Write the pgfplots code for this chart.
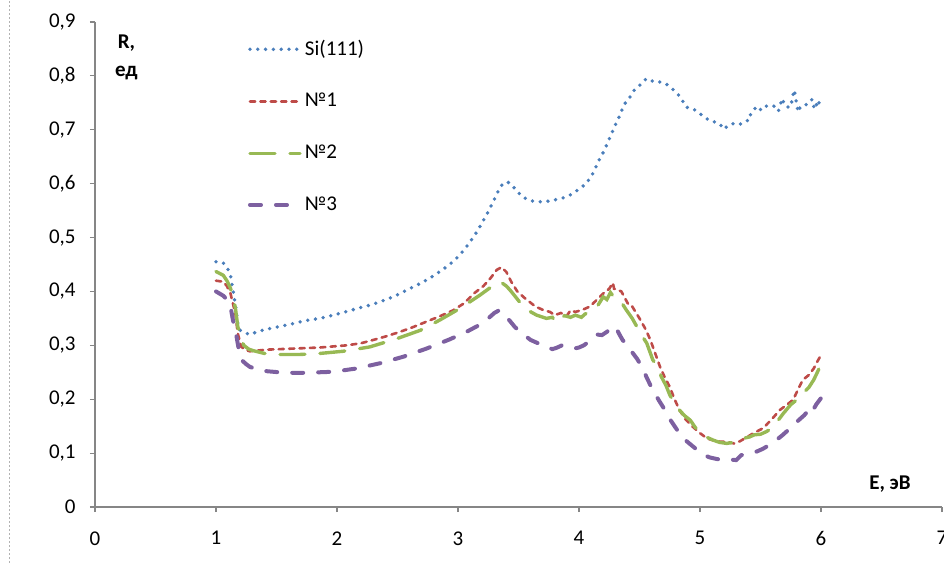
\documentclass[border=0pt]{standalone}
\usepackage{pgfplots}
\pgfplotsset{compat=1.18}
\usepackage{fontspec}
\setmainfont{Carlito}
\definecolor{cSi}{HTML}{4A7EBB}
\definecolor{cA}{HTML}{BE4B48}
\definecolor{cB}{HTML}{98B954}
\definecolor{cC}{HTML}{7D60A0}
\definecolor{axgray}{HTML}{868686}
\begin{document}
\fontsize{10.5}{12}\selectfont
\begin{tikzpicture}
\begin{axis}[
  at={(0,0)}, anchor=origin,
  scale only axis, width=423.5pt, height=242.5pt,
  xmin=0, xmax=7, ymin=0, ymax=0.9,
  axis x line=bottom, axis y line=left,
  axis line style={-, axgray, line width=0.6pt},
  xtick={0,1,...,7}, ytick={0,0.1,...,0.9},
  tick align=outside, major tick length=2.5pt,
  tick style={axgray, line width=0.6pt},
  minor tick num=0,
  /pgf/number format/assume math mode=true,
  /pgf/number format/use comma,
  yticklabel style={/pgf/number format/.cd, fixed, precision=1, use comma, /tikz/.cd, font=\fontsize{10.5}{12}\selectfont, xshift=-3.5pt},
  xticklabel style={font=\fontsize{10.5}{12}\selectfont, yshift=-6pt},
  clip=false,
  legend style={draw=none, fill=none, inner sep=0pt, outer sep=0pt,
     at={(axis description cs:0.1806,0.969)}, anchor=north west,
     row sep=14.4pt, font=\fontsize{10.5}{12}\selectfont,
     nodes={inner sep=1.5pt}},
  legend cell align=left,
  legend image code/.code={\draw[#1] (0pt,0pt) -- (25pt,0pt);},
]
\addplot[cSi, line width=1.9pt, line cap=round, dash pattern=on 0pt off 3.9pt] coordinates {
(1.00,0.455)(1.03,0.455)(1.06,0.453)(1.09,0.445)(1.12,0.43)(1.14,0.403)(1.16,0.375)(1.18,0.34)(1.20,0.328)(1.23,0.324)(1.28,0.32)(1.35,0.326)(1.42,0.33)(1.55,0.336)(1.65,0.341)(1.72,0.345)(1.80,0.348)(1.86,0.350)(1.95,0.355)(2.02,0.359)(2.10,0.364)(2.19,0.37)(2.28,0.375)(2.36,0.381)(2.44,0.388)(2.52,0.396)(2.60,0.405)(2.69,0.415)(2.77,0.425)(2.85,0.437)(2.92,0.448)(2.99,0.462)(3.05,0.477)(3.10,0.492)(3.16,0.512)(3.21,0.532)(3.25,0.548)(3.29,0.566)(3.33,0.585)(3.37,0.600)(3.41,0.603)(3.44,0.599)(3.48,0.588)(3.53,0.576)(3.59,0.569)(3.65,0.566)(3.71,0.567)(3.77,0.568)(3.82,0.571)(3.86,0.573)(3.91,0.577)(3.95,0.582)(4.00,0.59)(4.06,0.60)(4.11,0.617)(4.16,0.641)(4.21,0.662)(4.26,0.688)(4.30,0.709)(4.34,0.728)(4.37,0.746)(4.42,0.76)(4.46,0.775)(4.50,0.782)(4.53,0.790)(4.56,0.795)(4.60,0.791)(4.64,0.788)(4.68,0.789)(4.72,0.785)(4.75,0.78)(4.79,0.772)(4.83,0.763)(4.86,0.752)(4.88,0.743)(4.91,0.740)(4.95,0.738)(5.00,0.730)(5.04,0.722)(5.08,0.718)(5.11,0.715)(5.14,0.714)(5.17,0.709)(5.20,0.701)(5.23,0.708)(5.25,0.709)(5.28,0.712)(5.33,0.710)(5.37,0.716)(5.41,0.718)(5.42,0.731)(5.46,0.741)(5.49,0.735)(5.53,0.745)(5.58,0.742)(5.63,0.745)(5.65,0.736)(5.68,0.758)(5.70,0.745)(5.74,0.741)(5.76,0.753)(5.77,0.766)(5.78,0.774)(5.79,0.759)(5.80,0.747)(5.81,0.733)(5.83,0.743)(5.87,0.745)(5.91,0.755)(5.93,0.756)(5.94,0.743)(5.95,0.738)(5.97,0.752)(5.98,0.755)(5.99,0.743)(6.01,0.738)
};
\addlegendentry{Si(111)}
\addplot[cA, line width=1.3pt, line cap=round, dash pattern=on 2.6pt off 2.6pt] coordinates {
(1.00,0.42)(1.06,0.418)(1.09,0.41)(1.12,0.396)(1.16,0.359)(1.18,0.322)(1.21,0.297)(1.25,0.291)(1.28,0.289)(1.42,0.292)(1.64,0.294)(1.86,0.296)(2.08,0.30)(2.20,0.304)(2.30,0.31)(2.41,0.317)(2.52,0.325)(2.63,0.334)(2.74,0.344)(2.85,0.354)(2.96,0.365)(3.05,0.378)(3.13,0.396)(3.21,0.41)(3.27,0.425)(3.32,0.44)(3.36,0.445)(3.40,0.436)(3.44,0.418)(3.49,0.40)(3.55,0.388)(3.64,0.372)(3.70,0.366)(3.76,0.362)(3.80,0.356)(3.85,0.36)(3.90,0.355)(3.93,0.365)(3.97,0.362)(4.03,0.366)(4.09,0.372)(4.15,0.385)(4.20,0.396)(4.25,0.405)(4.28,0.416)(4.29,0.405)(4.32,0.403)(4.35,0.40)(4.41,0.375)(4.44,0.372)(4.50,0.35)(4.55,0.33)(4.59,0.31)(4.63,0.285)(4.67,0.26)(4.71,0.24)(4.75,0.223)(4.79,0.20)(4.83,0.18)(4.88,0.163)(4.94,0.149)(5.00,0.137)(5.06,0.127)(5.12,0.123)(5.17,0.121)(5.22,0.121)(5.28,0.118)(5.33,0.122)(5.39,0.13)(5.45,0.138)(5.52,0.146)(5.59,0.162)(5.66,0.18)(5.72,0.19)(5.77,0.199)(5.81,0.218)(5.85,0.236)(5.90,0.245)(5.94,0.257)(5.97,0.27)(5.99,0.278)(6.01,0.270)
};
\addlegendentry{№1}
\addplot[cB, line width=1.7pt, line cap=round, dash pattern=on 12.5pt off 7.5pt] coordinates {
(1.00,0.437)(1.06,0.43)(1.09,0.42)(1.12,0.406)(1.16,0.37)(1.18,0.335)(1.21,0.31)(1.23,0.30)(1.27,0.293)(1.31,0.29)(1.40,0.285)(1.50,0.283)(1.69,0.283)(1.86,0.285)(2.05,0.289)(2.27,0.297)(2.49,0.312)(2.69,0.328)(2.85,0.347)(3.02,0.369)(3.18,0.393)(3.26,0.406)(3.32,0.415)(3.35,0.418)(3.40,0.41)(3.44,0.40)(3.50,0.383)(3.57,0.366)(3.65,0.356)(3.73,0.35)(3.78,0.352)(3.81,0.342)(3.85,0.35)(3.88,0.355)(3.93,0.352)(3.97,0.356)(4.02,0.352)(4.05,0.358)(4.10,0.365)(4.15,0.372)(4.20,0.39)(4.23,0.385)(4.26,0.398)(4.28,0.392)(4.31,0.39)(4.35,0.38)(4.39,0.366)(4.44,0.35)(4.48,0.334)(4.52,0.318)(4.56,0.304)(4.61,0.273)(4.65,0.26)(4.68,0.242)(4.72,0.225)(4.75,0.208)(4.79,0.193)(4.83,0.18)(4.87,0.17)(4.92,0.161)(4.96,0.148)(5.00,0.137)(5.05,0.13)(5.11,0.124)(5.16,0.12)(5.22,0.118)(5.28,0.12)(5.33,0.121)(5.37,0.128)(5.41,0.13)(5.45,0.134)(5.50,0.135)(5.55,0.14)(5.61,0.149)(5.65,0.162)(5.69,0.174)(5.75,0.19)(5.80,0.199)(5.85,0.211)(5.90,0.222)(5.94,0.236)(5.97,0.25)(6.00,0.265)
};
\addlegendentry{№2}
\addplot[cC, line width=2pt, line cap=round, dash pattern=on 5.5pt off 7.5pt] coordinates {
(1.00,0.40)(1.06,0.392)(1.09,0.385)(1.12,0.372)(1.14,0.347)(1.17,0.316)(1.19,0.29)(1.21,0.273)(1.25,0.265)(1.28,0.26)(1.35,0.255)(1.42,0.252)(1.57,0.249)(1.74,0.249)(1.97,0.251)(2.16,0.257)(2.36,0.267)(2.55,0.279)(2.74,0.294)(2.93,0.311)(3.07,0.325)(3.17,0.337)(3.24,0.348)(3.30,0.36)(3.34,0.365)(3.38,0.358)(3.43,0.345)(3.47,0.334)(3.53,0.322)(3.60,0.31)(3.67,0.303)(3.73,0.297)(3.78,0.293)(3.81,0.295)(3.86,0.3)(3.91,0.297)(3.96,0.294)(4.00,0.296)(4.04,0.30)(4.10,0.31)(4.15,0.32)(4.19,0.319)(4.23,0.325)(4.27,0.333)(4.30,0.335)(4.33,0.322)(4.36,0.31)(4.39,0.302)(4.43,0.29)(4.48,0.275)(4.52,0.26)(4.56,0.24)(4.61,0.217)(4.66,0.198)(4.71,0.18)(4.76,0.16)(4.82,0.14)(4.89,0.122)(4.96,0.109)(5.02,0.098)(5.08,0.092)(5.14,0.089)(5.19,0.087)(5.25,0.088)(5.30,0.087)(5.34,0.096)(5.40,0.1)(5.47,0.103)(5.52,0.108)(5.58,0.116)(5.63,0.124)(5.68,0.133)(5.73,0.143)(5.77,0.152)(5.82,0.162)(5.86,0.17)(5.90,0.18)(5.92,0.174)(5.96,0.19)(6.01,0.205)
};
\addlegendentry{№3}
\node[font=\bfseries\fontsize{10.5}{14}\selectfont, align=center, anchor=north] at (axis cs:0.26,0.89) {R,\\ед};
\node[font=\bfseries\fontsize{10.5}{12}\selectfont] at (axis cs:6.57,0.043) {E, эВ};
\end{axis}
\draw[gray!60, line width=0.4pt, dash pattern=on 1pt off 1pt] (-42.75pt,-28pt) -- (-42.75pt,253.5pt);
\pgfresetboundingbox
\path[use as bounding box] (-47.5pt,-28pt) rectangle (424.5pt,253.5pt);
\end{tikzpicture}
\end{document}
